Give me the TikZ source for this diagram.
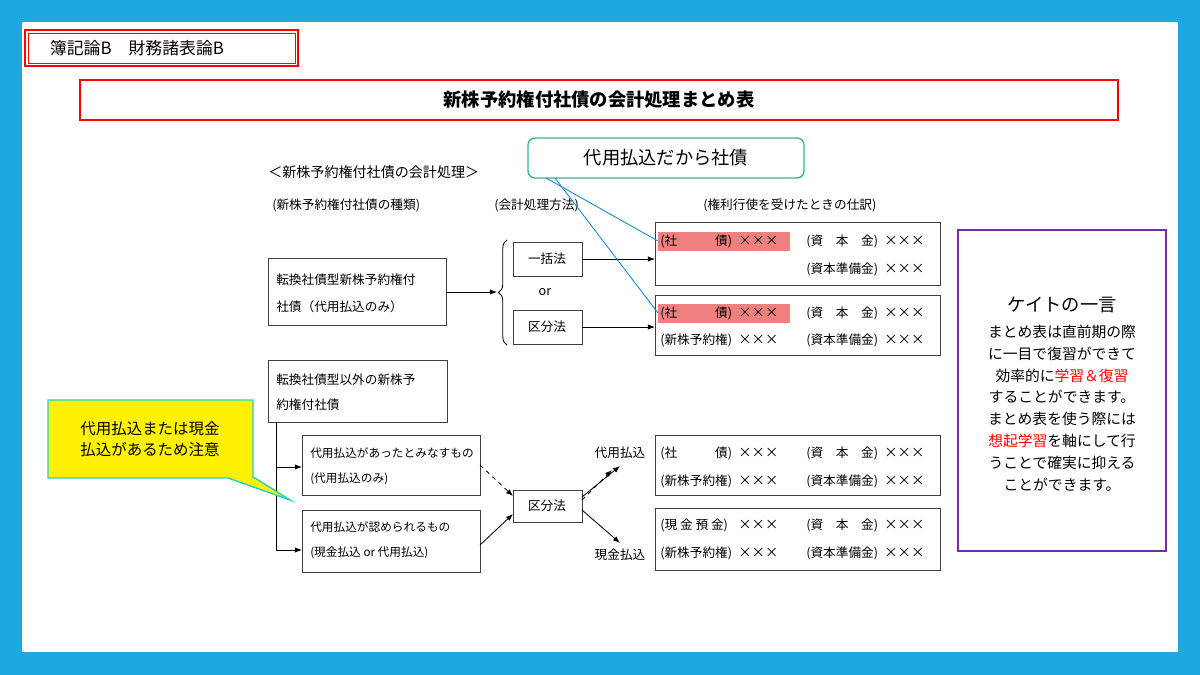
\documentclass[tikz,border=0pt]{standalone}
\usepackage{fontspec}
\setmainfont{Noto Sans CJK JP}
\usetikzlibrary{arrows.meta,decorations.pathreplacing}
\definecolor{bgblue}{HTML}{1EA8E0}
\definecolor{hl}{HTML}{F08080}
\definecolor{teal2}{HTML}{3BB39A}
\definecolor{purp}{HTML}{7030A0}
\newcommand{\jx}[3]{\node[jr] at (#1,#2) {#3}; \node[jr,font=\fontsize{9.5}{10}\selectfont] at (#1+78,#2) {×××};}
\begin{document}
\begin{tikzpicture}[x=0.025cm,y=-0.025cm,
  bx/.style={draw=black!75,fill=white,line width=0.6pt},
  t/.style={font=\fontsize{9}{10}\selectfont,inner sep=0pt},
  ts/.style={font=\fontsize{8.3}{10}\selectfont,inner sep=0pt},
  ar/.style={-{Latex[length=5pt]},line width=0.6pt},
  jr/.style={font=\fontsize{9}{10}\selectfont,inner sep=0pt,anchor=west}]
\fill[bgblue] (0,0) rectangle (1200,675);
\fill[white] (22,22) rectangle (1178,652);
\useasboundingbox (0,0) rectangle (1200,675);
% title boxes
\draw[red,line width=1.2pt] (25,30) rectangle (298,66);
\draw[red,line width=0.6pt] (28,33) rectangle (295,63);
\node[font=\fontsize{12}{13}\selectfont,anchor=west] (ttl) at (45,48) {簿記論B　財務諸表論B};
\draw[red,line width=1.2pt] (80,80) rectangle (1118,120);
\node[font=\fontsize{13}{14}\selectfont\bfseries] (main) at (599,100) {新株予約権付社債の会計処理まとめ表};
% headings
\node[anchor=west,font=\fontsize{10}{11}\selectfont,inner sep=0pt] (h0) at (268,172) {＜新株予約権付社債の会計処理＞};
\node[t,anchor=west] (h1) at (272,205) {(新株予約権付社債の種類)};
\node[t,anchor=west] (h2) at (494,205) {(会計処理方法)};
\node[t,anchor=west] (h3) at (703,205) {(権利行使を受けたときの仕訳)};
% left boxes
\draw[bx] (268,258) rectangle (446,325);
\node[t,anchor=west] (a1) at (276,280) {転換社債型新株予約権付};
\node[t,anchor=west] (a2) at (276,307) {社債（代用払込のみ）};
\coordinate (A) at (446,292);
\draw[decorate,decoration={brace,amplitude=6pt},line width=0.6pt] (507,345) -- (507,240);
\coordinate (Br) at (497,292);
\draw[ar] (A) -- (Br);
\draw[bx] (513,242) rectangle (582,276); \node[t] (ik) at (547,259) {一括法};
\node[t] (or) at (545,292) {or};
\draw[bx] (513,310) rectangle (582,344); \node[t] (kb) at (547,327) {区分法};
\draw[ar] (582,259) -- (655,259);
\draw[ar] (582,327) -- (655,327);
% journal boxes
\draw[bx] (655,222) rectangle (940,285);
\draw[bx] (655,295) rectangle (940,355);
\draw[bx] (655,435) rectangle (940,495);
\draw[bx] (655,508) rectangle (940,570);
\fill[hl] (658,232) rectangle (790,251);
\fill[hl] (658,304) rectangle (790,323);
\jx{660}{241}{(社　　　債)} \jx{806}{241}{(資　本　金)}
\jx{806}{269}{(資本準備金)}
\jx{660}{313}{(社　　　債)} \jx{806}{313}{(資　本　金)}
\jx{660}{340}{(新株予約権)} \jx{806}{340}{(資本準備金)}
\jx{660}{453}{(社　　　債)} \jx{806}{453}{(資　本　金)}
\jx{660}{481}{(新株予約権)} \jx{806}{481}{(資本準備金)}
\jx{660}{525}{(現 金 預 金)} \jx{806}{525}{(資　本　金)}
\jx{660}{553}{(新株予約権)} \jx{806}{553}{(資本準備金)}
% lower tree
\draw[bx] (268,360) rectangle (447,422);
\node[t,anchor=west] (b1) at (276,380) {転換社債型以外の新株予};
\node[t,anchor=west] (b2) at (276,405) {約権付社債};
\draw[bx] (302,435) rectangle (480,495);
\node[ts,anchor=west] (c1) at (310,453) {代用払込があったとみなすもの};
\node[ts,anchor=west] (c2) at (310,479) {(代用払込のみ)};
\draw[bx] (302,510) rectangle (480,572);
\node[ts,anchor=west] (d1) at (310,527) {代用払込が認められるもの};
\node[ts,anchor=west] (d2) at (310,553) {(現金払込 or 代用払込)};
\draw[line width=0.6pt] (276,422) -- (276,550);
\draw[ar] (276,467) -- (302,467);
\draw[ar] (276,550) -- (302,550);
\draw[bx] (513,490) rectangle (582,522); \node[t] (kb2) at (547,506) {区分法};
\draw[ar,dashed] (480,465) -- (513,496);
\draw[ar] (480,545) -- (513,514);
\draw[ar,dashed] (582,500) -- (612,470);
\draw[ar] (582,497) -- (620,466);
\draw[ar] (582,510) -- (620,543);
\node[t] (dy) at (620,453) {代用払込};
\node[t] (gk) at (620,555) {現金払込};
% callout top
\draw[teal2,line width=1pt,fill=white,rounded corners=5pt] (528,138) rectangle (804,178);
\node[font=\fontsize{13}{14}\selectfont] (co) at (666,158) {代用払込だから社債};
\draw[cyan!70!blue,line width=0.6pt] (546,178) -- (658,241);
\draw[cyan!70!blue,line width=0.6pt] (555,178) -- (658,313);
% yellow callout
\draw[teal2!60!cyan,line width=1pt,fill=yellow] (48,400) -- (253,400) -- (253,478) -- (255,478) -- (290,500) -- (228,478) -- (48,478) -- cycle;
\node[font=\fontsize{11}{15}\selectfont,align=center] (yc) at (150,439) {代用払込または現金\\払込があるため注意};
% right box
\draw[purp,line width=1pt] (958,230) rectangle (1166,551);
\node[font=\fontsize{13}{14}\selectfont] (kt) at (1062,305) {ケイトの一言};
\node[font=\fontsize{10.5}{15.5}\selectfont,align=center,anchor=north] (kt2) at (1062,320) {まとめ表は直前期の際\\に一目で復習ができて\\効率的に\textcolor{red}{学習＆復習}\\することができます。\\まとめ表を使う際には\\\textcolor{red}{想起学習}を軸にして行\\うことで確実に抑える\\ことができます。};
\end{tikzpicture}
\end{document}
